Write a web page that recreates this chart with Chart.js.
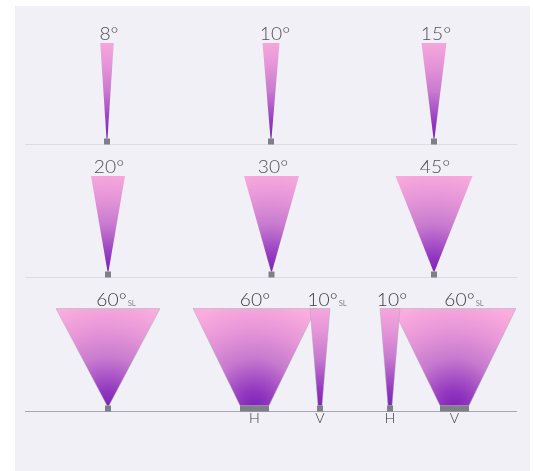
<!DOCTYPE html>
<html>
<head>
<meta charset="utf-8">
<style>
html, body { margin: 0; padding: 0; background: #fff; overflow: hidden; }
canvas { display: block; }
</style>
<script src="https://cdn.jsdelivr.net/npm/chart.js@4"></script>
</head>
<body>
<canvas id="beamChart" width="533" height="471"></canvas>
<script>
// Beam angles, one entry per cone
const beamNames = ['8°', '10°', '15°', '20°', '30°', '45°', '60°', '60°', '10°', '60°', '10°'];
const beamSuffix = ['', '', '', '', '', '', 'SL', '', 'SL', 'SL', ''];
const beamAxis = ['', '', '', '', '', '', '', 'H', 'V', 'V', 'H'];
const beamRow = [0, 0, 0, 1, 1, 1, 2, 2, 2, 2, 2];
const beamCenter = [107, 271, 434, 108, 271.5, 434, 108, 254.5, 320, 454.5, 390];
const beamTopWidth = [13.5, 17, 25, 34, 55, 77, 104, 123, 20, 123, 20];
const beamBaseWidth = [1, 1, 1, 1, 1, 1, 2, 29, 4, 29, 4];
const housingWidth = [6, 6, 6, 6, 6, 6, 6, 29, 6, 29, 6];
const labelCenter = [109, 275, 436, 109, 273, 435, 111.5, 255, 322.5, 459.5, 392];

// Rows of the figure
const rowTop = [43, 176, 308.5];
const rowBase = [144.5, 277.5, 411.5];
const lineColors = ['#dddce3', '#dddce3', '#a9a8af'];
const housingHeight = 6;

// Glow starts at the fixture and spreads out to the pink rim
function beamGradient(c) {
    const area = c.chart.chartArea;
    if (!area) return '#f8aade';
    const ds = c.chart.data.datasets[c.datasetIndex];
    const { x, y } = c.chart.scales;
    const px = x.getPixelForValue(ds.beamX);
    const py = y.getPixelForValue(ds.rowY[1]);
    const radius = (py - y.getPixelForValue(ds.rowY[0])) * 1.1;
    const g = c.chart.ctx.createRadialGradient(px, py, 0, px, py, radius);
    g.addColorStop(0, '#7f24b7');
    g.addColorStop(0.14, '#9237bf');
    g.addColorStop(0.45, '#c87bcf');
    g.addColorStop(0.72, '#e797d8');
    g.addColorStop(1, '#fbaede');
    return g;
}

const datasets = [];

// Ground line of each row
rowBase.forEach((b, i) => {
    datasets.push({
        data: [{ x: 25, y: b }, { x: 517, y: b }],
        borderColor: lineColors[i],
        borderWidth: 1,
        pointRadius: 0,
        fill: false,
        order: 5
    });
});

// Cones
beamNames.forEach((name, i) => {
    const r = beamRow[i];
    const bottom = rowBase[r] - housingHeight;
    const cx = beamCenter[i];
    const big = r === 2;
    datasets.push({
        data: [
            { x: cx - beamTopWidth[i] / 2, y: rowTop[r] },
            { x: cx + beamTopWidth[i] / 2, y: rowTop[r] },
            { x: cx + beamBaseWidth[i] / 2, y: bottom },
            { x: cx - beamBaseWidth[i] / 2, y: bottom },
            { x: cx - beamTopWidth[i] / 2, y: rowTop[r] }
        ],
        beamX: cx,
        rowY: [rowTop[r], bottom],
        backgroundColor: beamGradient,
        borderColor: big ? 'rgba(170,165,175,0.45)' : 'rgba(0,0,0,0)',
        borderWidth: big ? 1 : 0,
        pointRadius: 0,
        tension: 0,
        fill: 'shape',
        order: 4 - (beamTopWidth[i] < 30 ? 1 : 0)
    });
});

// Grey fixture under each cone
beamNames.forEach((name, i) => {
    const r = beamRow[i];
    const top = rowBase[r] - housingHeight;
    const cx = beamCenter[i];
    const w = housingWidth[i] / 2;
    datasets.push({
        data: [
            { x: cx - w, y: top },
            { x: cx + w, y: top },
            { x: cx + w, y: rowBase[r] },
            { x: cx - w, y: rowBase[r] },
            { x: cx - w, y: top }
        ],
        backgroundColor: '#7f7f8a',
        borderWidth: 0,
        pointRadius: 0,
        fill: 'shape',
        order: 1
    });
});

const panelPlugin = {
    id: 'panel',
    beforeDraw(chart) {
        const { ctx, scales: { x, y } } = chart;
        ctx.save();
        ctx.fillStyle = '#f1f0f7';
        ctx.fillRect(x.getPixelForValue(15), y.getPixelForValue(6), x.getPixelForValue(530) - x.getPixelForValue(15), y.getPixelForValue(471) - y.getPixelForValue(6));
        ctx.restore();
    }
};

// The caption face is wide, so stretch the text sideways
const textStretch = 1.1;

function wideText(ctx, text, px, py, align) {
    ctx.save();
    ctx.translate(px, py);
    ctx.scale(textStretch, 1);
    ctx.textAlign = align;
    ctx.fillText(text, 0, 0);
    ctx.restore();
}

const labelPlugin = {
    id: 'beamLabels',
    afterDatasetsDraw(chart) {
        const { ctx, scales: { x, y } } = chart;
        ctx.save();
        ctx.textBaseline = 'alphabetic';
        beamNames.forEach((name, i) => {
            const r = beamRow[i];
            const px = x.getPixelForValue(labelCenter[i]);
            const py = y.getPixelForValue(rowTop[r] - 3);
            ctx.font = '300 17.5px Lato';
            ctx.fillStyle = r === 2 ? '#3c3c40' : '#505055';
            wideText(ctx, name, px, py, 'center');
            if (beamSuffix[i]) {
                const w = ctx.measureText(name).width * textStretch;
                ctx.font = '400 7px Lato';
                ctx.fillStyle = '#85858c';
                wideText(ctx, beamSuffix[i], px + w / 2 + 1, py, 'left');
            }
            if (beamAxis[i]) {
                ctx.font = '300 13px Lato';
                ctx.fillStyle = '#3c3c40';
                wideText(ctx, beamAxis[i], x.getPixelForValue(beamCenter[i]), y.getPixelForValue(423), 'center');
            }
        });
        ctx.restore();
    }
};

new Chart(document.getElementById('beamChart'), {
    type: 'line',
    data: { datasets },
    plugins: [panelPlugin, labelPlugin],
    options: {
        responsive: false,
        animation: false,
        devicePixelRatio: 1,
        layout: { padding: 0 },
        plugins: { legend: { display: false }, tooltip: { enabled: false } },
        scales: {
            x: { type: 'linear', min: 0, max: 533, display: false },
            y: { type: 'linear', min: 0, max: 471, reverse: true, display: false }
        }
    }
});
</script>
</body>
</html>
